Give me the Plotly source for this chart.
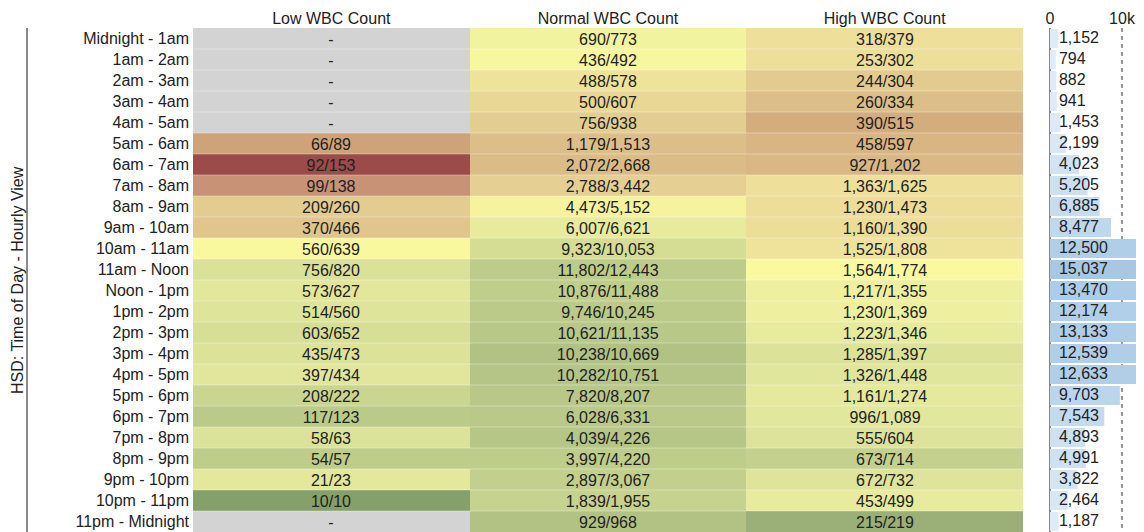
import plotly.graph_objects as go

hours = ["Midnight - 1am", "1am - 2am", "2am - 3am", "3am - 4am", "4am - 5am", "5am - 6am",
         "6am - 7am", "7am - 8am", "8am - 9am", "9am - 10am", "10am - 11am", "11am - Noon",
         "Noon - 1pm", "1pm - 2pm", "2pm - 3pm", "3pm - 4pm", "4pm - 5pm", "5pm - 6pm",
         "6pm - 7pm", "7pm - 8pm", "8pm - 9pm", "9pm - 10pm", "10pm - 11pm", "11pm - Midnight"]
columns = ["Low WBC Count", "Normal WBC Count", "High WBC Count"]

low_num = [None, None, None, None, None, 66, 92, 99, 209, 370, 560, 756, 573, 514, 603, 435, 397,
           208, 117, 58, 54, 21, 10, None]
low_den = [None, None, None, None, None, 89, 153, 138, 260, 466, 639, 820, 627, 560, 652, 473, 434,
           222, 123, 63, 57, 23, 10, None]
normal_num = [690, 436, 488, 500, 756, 1179, 2072, 2788, 4473, 6007, 9323, 11802, 10876, 9746,
              10621, 10238, 10282, 7820, 6028, 4039, 3997, 2897, 1839, 929]
normal_den = [773, 492, 578, 607, 938, 1513, 2668, 3442, 5152, 6621, 10053, 12443, 11488, 10245,
              11135, 10669, 10751, 8207, 6331, 4226, 4220, 3067, 1955, 968]
high_num = [318, 253, 244, 260, 390, 458, 927, 1363, 1230, 1160, 1525, 1564, 1217, 1230, 1223,
            1285, 1326, 1161, 996, 555, 673, 672, 453, 215]
high_den = [379, 302, 304, 334, 515, 597, 1202, 1625, 1473, 1390, 1808, 1774, 1355, 1369, 1346,
            1397, 1448, 1274, 1089, 604, 714, 732, 499, 219]
totals = [1152, 794, 882, 941, 1453, 2199, 4023, 5205, 6885, 8477, 12500, 15037, 13470, 12174,
          13133, 12539, 12633, 9703, 7543, 4893, 4991, 3822, 2464, 1187]

FONT = "Liberation Sans, Arial, Helvetica, sans-serif"
TXT = "#222222"

pairs = [(low_num, low_den), (normal_num, normal_den), (high_num, high_den)]
z, txt, zmiss, tmiss = [], [], [], []
for i in range(len(hours)):
    rz, rt, mz, mt = [], [], [], []
    for num, den in pairs:
        n, d = num[i], den[i]
        if n is None:
            rz.append(None); rt.append("")
            mz.append(1); mt.append("-")
        else:
            rz.append(n / d); rt.append(f"{n:,}/{d:,}")
            mz.append(None); mt.append("")
    z.append(rz); txt.append(rt); zmiss.append(mz); tmiss.append(mt)

cscale = [
    [0.0, "#9b4a48"], [0.3, "#c89476"], [0.35, "#cfa27a"], [0.4, "#d5af80"],
    [0.45, "#dcbf89"], [0.525, "#e5cf92"], [0.6, "#eee09a"], [0.7, "#fbfaa0"],
    [0.775, "#e6ea9e"], [0.825, "#d2db94"], [0.875, "#bccb8a"], [0.95, "#9db07a"],
    [1.0, "#86a06a"],
]

fig = go.Figure()
fig.add_trace(go.Heatmap(
    z=zmiss, x=columns, y=hours, text=tmiss, texttemplate="%{text}",
    textfont=dict(size=16, color=TXT, family=FONT),
    colorscale=[[0, "#d3d3d3"], [1, "#d3d3d3"]], showscale=False, hoverinfo="skip",
    xaxis="x", yaxis="y"))
fig.add_trace(go.Heatmap(
    z=z, x=columns, y=hours, text=txt, texttemplate="%{text}",
    textfont=dict(size=16, color=TXT, family=FONT),
    colorscale=cscale, zmin=0.6, zmax=1.0, showscale=False,
    xaxis="x", yaxis="y"))

fig.add_trace(go.Bar(
    x=totals, y=hours, orientation="h", width=0.9,
    marker=dict(color=totals, colorscale=[[0, "#e2edf8"], [1, "#a6c8e5"]], cmin=0, cmax=15037,
                line=dict(width=0)),
    xaxis="x2", yaxis="y", showlegend=False))
fig.add_trace(go.Scatter(
    x=[0] * len(hours), y=hours, mode="text", text=[f"  {t:,}" for t in totals],
    textposition="middle right", textfont=dict(size=16, color=TXT, family=FONT),
    xaxis="x2", yaxis="y", showlegend=False, cliponaxis=False, hoverinfo="skip"))

# the page body adds an 8px offset; the figure is sized/positioned to compensate
OFF = 8
SW, SH = 1144, 532
W, H = SW - OFF, SH - OFF


def fx(px):
    return (px - OFF) / W


shapes = []
for i in range(1, len(hours)):
    shapes.append(dict(type="line", xref="x domain", yref="y", x0=0, x1=1, y0=i - 0.5, y1=i - 0.5,
                       line=dict(color="rgba(255,255,255,0.35)", width=1), layer="above"))
shapes.append(dict(type="line", xref="paper", yref="paper", x0=fx(27), x1=fx(27), y0=0, y1=1,
                   line=dict(color="#8a8a8a", width=2)))

fig.update_layout(
    width=W, height=H,
    margin=dict(l=0, r=0, t=28 - OFF, b=0, autoexpand=False),
    paper_bgcolor="white", plot_bgcolor="white",
    font=dict(family=FONT, size=16, color=TXT),
    showlegend=False,
    xaxis=dict(domain=[fx(193), fx(1023)], side="top", showgrid=False, zeroline=False,
               ticks="", tickfont=dict(size=16), automargin=False, fixedrange=True),
    xaxis2=dict(domain=[fx(1050), 1.0], range=[0, 13055], side="top", anchor="y",
                tickvals=[0, 10000], ticktext=["0", "10k"], ticks="", automargin=False,
                showgrid=True, gridcolor="#9a9a9a", gridwidth=1.5, griddash="4px,4px",
                zeroline=True, zerolinecolor="#8a8a8a", zerolinewidth=2,
                tickfont=dict(size=16)),
    yaxis=dict(domain=[0, 1], range=[len(hours) - 0.5, -0.5], type="category", showgrid=False,
               zeroline=False, ticks="", tickfont=dict(size=16), anchor="x", automargin=False,
               ticklabelstandoff=3),
    shapes=shapes,
    annotations=[dict(text="HSD: Time of Day - Hourly View", xref="paper", yref="paper",
                      x=fx(17), y=0.5, textangle=-90, showarrow=False,
                      xanchor="center", yanchor="middle", font=dict(size=16, color=TXT))],
)

fig.write_html("out.html")
